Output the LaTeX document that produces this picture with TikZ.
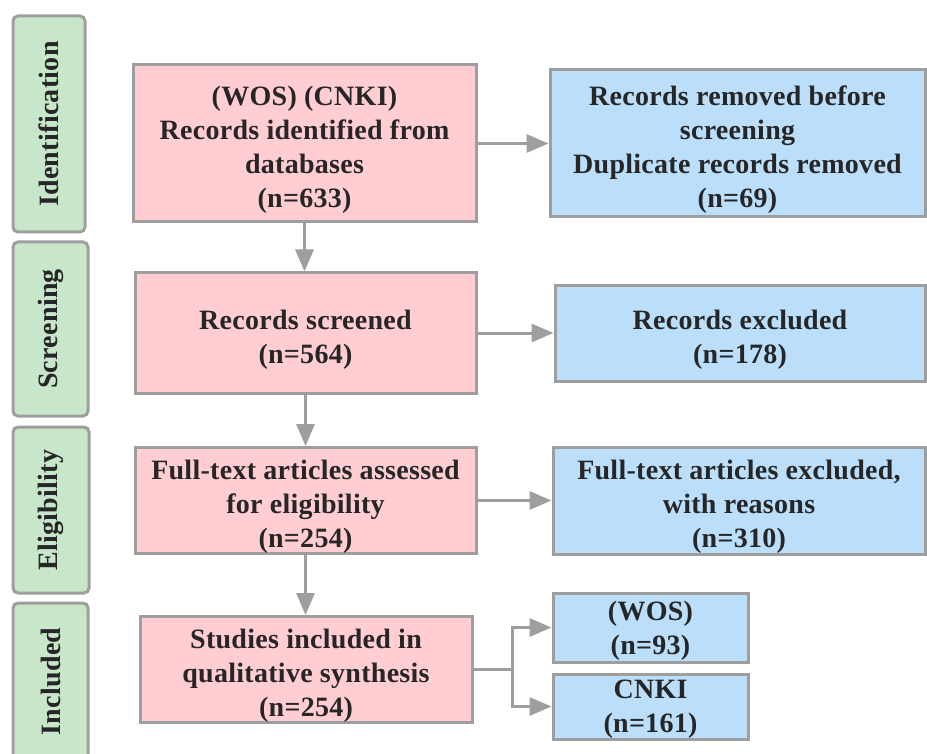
\documentclass[tikz,border=0pt]{standalone}
\usepackage{fontspec}
\setmainfont{Liberation Serif}[BoldFont={Liberation Serif Bold}]
\newfontfamily\tnrbold{Liberation Serif Bold}[LetterSpace=1]
\usetikzlibrary{arrows.meta}
\definecolor{pinkfill}{HTML}{FFCDD2}
\definecolor{bluefill}{HTML}{BBDEFB}
\definecolor{greenfill}{HTML}{C8E6C9}
\definecolor{edgegray}{HTML}{9E9E9E}
\definecolor{txt}{HTML}{262626}
\newcommand{\topstrut}[1][32pt]{\rule{0pt}{#1}}
\begin{document}
\begin{tikzpicture}[x=1pt,y=-1pt,
  box/.style={draw=edgegray,line width=3pt,align=center,inner sep=0pt,text=txt,
    font=\tnrbold\fontsize{28}{34}\selectfont},
  pinkbox/.style={box,fill=pinkfill},
  bluebox/.style={box,fill=bluefill},
  stage/.style={box,fill=greenfill,rounded corners=5pt,rotate=90},
  conn/.style={draw=edgegray,line width=3pt,-{Triangle[length=22pt,width=18pt]}},
  link/.style={draw=edgegray,line width=3pt}
]
\useasboundingbox (0,0) rectangle (927,754);
\clip (0,0) rectangle (927,754);
\fill[white] (0,0) rectangle (927,754);

% stage labels
\node[stage,minimum width=216pt,minimum height=72pt] (s1) at (49,124) {Identification};
\node[stage,minimum width=174pt,minimum height=75pt] (s2) at (50.5,329) {Screening};
\node[stage,minimum width=166pt,minimum height=76pt] (s3) at (51,510) {Eligibility};
\node[stage,minimum width=157pt,minimum height=75pt] (s4) at (50.5,681.5) {Included};

% main column
\node[pinkbox,minimum width=343pt,minimum height=157pt] (p1) at (304.5,143.5)
  {\topstrut(WOS) (CNKI)\\Records identified from\\databases\\(n=633)};
\node[pinkbox,minimum width=341pt,minimum height=120pt] (p2) at (305.5,333)
  {\topstrut Records screened\\(n=564)};
\node[pinkbox,minimum width=341pt,minimum height=103pt] (p3) at (305.5,500.5)
  {\topstrut Full-text articles assessed\\for eligibility\\(n=254)};
\node[pinkbox,minimum width=332pt,minimum height=105pt] (p4) at (306,669.5)
  {\topstrut Studies included in\\qualitative synthesis\\(n=254)};

% right column
\node[bluebox,minimum width=375pt,minimum height=147pt] (b1) at (737.5,143.5)
  {\topstrut Records removed before\\screening\\Duplicate records removed\\(n=69)};
\node[bluebox,minimum width=370pt,minimum height=95pt] (b2) at (740,333.5)
  {\topstrut Records excluded\\(n=178)};
\node[bluebox,minimum width=372pt,minimum height=107pt] (b3) at (739,500.5)
  {\topstrut Full-text articles excluded,\\with reasons\\(n=310)};
\node[bluebox,minimum width=195pt,minimum height=69pt] (b4) at (650.5,627.5)
  {\topstrut[26pt](WOS)\\(n=93)};
\node[bluebox,minimum width=195pt,minimum height=65pt] (b5) at (650.5,706.5)
  {\topstrut[23pt]CNKI\\(n=161)};

% connectors
\draw[conn] (p1.south) -- (p1.south |- p2.north);
\draw[conn] (p2.south) -- (p2.south |- p3.north);
\draw[conn] (p3.south) -- (p3.south |- p4.north);
\draw[conn] (p1.east) -- (p1.east -| b1.west);
\draw[conn] (p2.east) -- (p2.east -| b2.west);
\draw[conn] (p3.east) -- (p3.east -| b3.west);
\coordinate (j) at (512,669.5);
\draw[link] (p4.east) -- (j);
\draw[conn] (j) |- (b4.west);
\draw[conn] (j) |- (b5.west);
\end{tikzpicture}
\end{document}
